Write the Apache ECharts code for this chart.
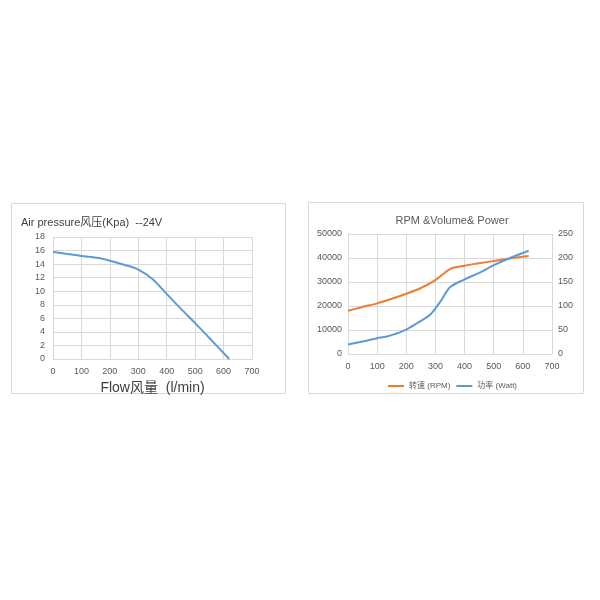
<!DOCTYPE html>
<html>
<head>
<meta charset="utf-8">
<script src="https://cdn.jsdelivr.net/npm/echarts@6/dist/echarts.min.js"></script>
<style>
  html, body { margin: 0; padding: 0; background: #fff; }
  #chart { width: 600px; height: 600px; }
</style>
</head>
<body>
<div id="chart"></div>
<script>
// left chart: pressure vs flow
const flowP = [0, 50, 100, 160, 200, 250, 300, 350, 400, 450, 500, 550, 620]
const pressure = [15.8, 15.5, 15.2, 14.9, 14.5, 13.9, 13.2, 11.8, 9.6, 7.4, 5.3, 3.1, 0]

// right chart: rpm & power vs flow
const flowR = [0, 50, 100, 150, 200, 250, 300, 350, 400, 450, 500, 550, 620]
const rpm = [18000, 19600, 21100, 23000, 25100, 27500, 30800, 35400, 36800, 37800, 38750, 39700, 40800]
const flowW = [0, 50, 100, 130, 160, 200, 250, 280, 300, 320, 350, 400, 450, 500, 550, 620]
const power = [20, 26, 33, 36, 41.5, 51, 69, 81, 95, 112, 139, 155.5, 169, 185, 198.5, 215]

const leftTitle = 'Air pressure风压(Kpa)  --24V'
const leftXName = 'Flow风量  (l/min)'
const rightTitle = 'RPM &Volume& Power'
const rpmName = '转速 (RPM)'
const powerName = '功率 (Watt)'

const font = "'Liberation Sans', 'Noto Sans CJK SC', sans-serif"
const gridColor = '#d9d9d9'
const labelColor = '#595959'

const chart = echarts.init(document.getElementById('chart'))

const tickLabel = { color: labelColor, fontSize: 9, fontFamily: font, formatter: v => String(v) }

const xAxisBase = {
  type: 'value',
  min: 0,
  max: 700,
  interval: 100,
  axisLine: { lineStyle: { color: gridColor } },
  axisTick: { show: false },
  axisLabel: Object.assign({ margin: 8 }, tickLabel),
  splitLine: { lineStyle: { color: gridColor } }
}

const option = {
  animation: false,
  textStyle: { fontFamily: font },
  graphic: [
    { type: 'rect', shape: { x: 11.5, y: 203.5, width: 274, height: 190 }, style: { fill: 'none', stroke: '#d9d9d9', lineWidth: 1 } },
    { type: 'rect', shape: { x: 308.5, y: 202.5, width: 275, height: 191 }, style: { fill: 'none', stroke: '#d9d9d9', lineWidth: 1 } },
    { type: 'text', left: 21, top: 217, style: { text: leftTitle, fontSize: 11, fill: '#404040', fontFamily: font } },
    { type: 'text', x: 452, y: 221, style: { text: rightTitle, fontSize: 11, fill: '#595959', fontFamily: font, align: 'center', verticalAlign: 'middle' } }
  ],
  grid: [
    { left: 53, top: 237, width: 199, height: 122 },
    { left: 348, top: 234, width: 204, height: 120 }
  ],
  legend: {
    data: [rpmName, powerName],
    left: 383,
    top: 377,
    itemWidth: 16,
    itemHeight: 2,
    itemGap: 6,
    icon: 'rect',
    textStyle: { fontSize: 8, color: labelColor, fontFamily: font }
  },
  xAxis: [
    Object.assign({}, xAxisBase, {
      gridIndex: 0,
      name: leftXName,
      nameLocation: 'middle',
      nameGap: 22,
      nameTextStyle: { fontSize: 14, color: '#404040', fontFamily: font }
    }),
    Object.assign({}, xAxisBase, { gridIndex: 1 })
  ],
  yAxis: [
    {
      type: 'value', gridIndex: 0, min: 0, max: 18, interval: 2,
      axisLine: { show: false }, axisTick: { show: false },
      axisLabel: Object.assign({ margin: 8 }, tickLabel),
      splitLine: { lineStyle: { color: gridColor } }
    },
    {
      type: 'value', gridIndex: 1, min: 0, max: 50000, interval: 10000,
      axisLine: { show: false }, axisTick: { show: false },
      axisLabel: Object.assign({ margin: 6 }, tickLabel),
      splitLine: { lineStyle: { color: gridColor } }
    },
    {
      type: 'value', gridIndex: 1, position: 'right', min: 0, max: 250, interval: 50,
      axisLine: { show: false }, axisTick: { show: false },
      axisLabel: Object.assign({ margin: 6 }, tickLabel),
      splitLine: { show: false }
    }
  ],
  series: [
    {
      type: 'line', xAxisIndex: 0, yAxisIndex: 0, smooth: 0.3, showSymbol: false,
      data: flowP.map((x, i) => [x, pressure[i]]),
      lineStyle: { color: '#5b9bd5', width: 2 }, itemStyle: { color: '#5b9bd5' }
    },
    {
      name: rpmName, type: 'line', xAxisIndex: 1, yAxisIndex: 1, smooth: 0.3, showSymbol: false,
      data: flowR.map((x, i) => [x, rpm[i]]),
      lineStyle: { color: '#ed7d31', width: 2 }, itemStyle: { color: '#ed7d31' }
    },
    {
      name: powerName, type: 'line', xAxisIndex: 1, yAxisIndex: 2, smooth: 0.3, showSymbol: false,
      data: flowW.map((x, i) => [x, power[i]]),
      lineStyle: { color: '#5b9bd5', width: 2 }, itemStyle: { color: '#5b9bd5' }
    }
  ]
}

chart.setOption(option)
</script>
</body>
</html>
